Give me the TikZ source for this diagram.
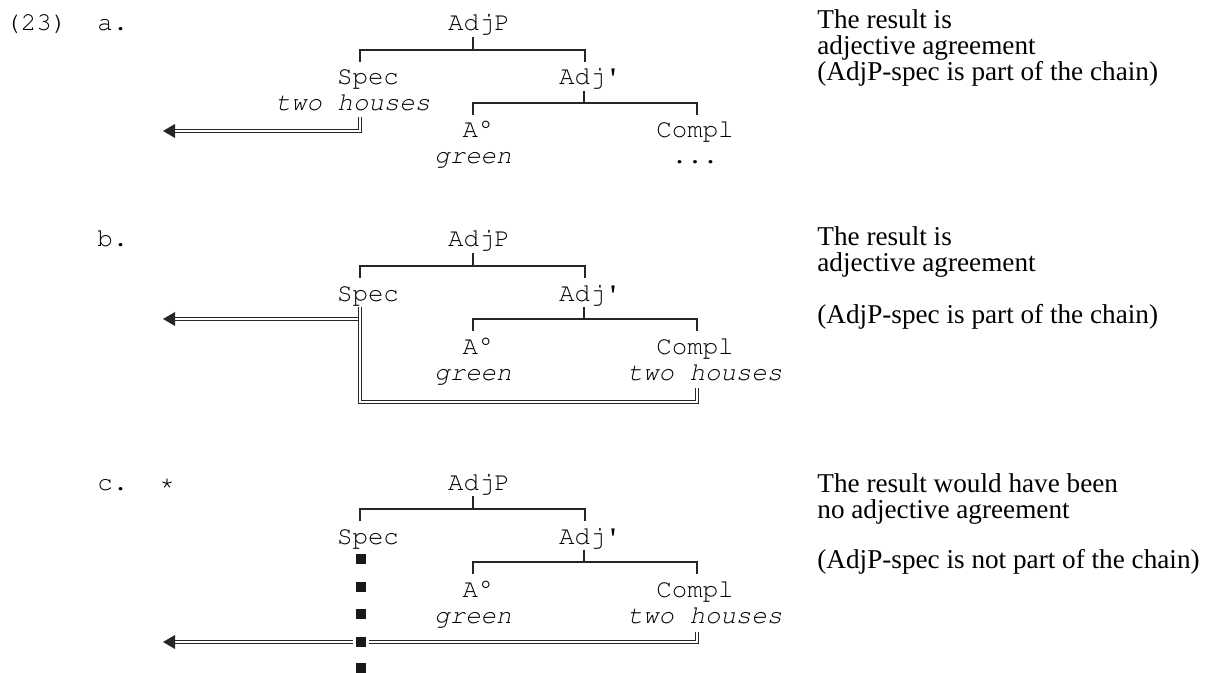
\documentclass[tikz,border=0pt]{standalone}
\usepackage[T1]{fontenc}
\usepackage{fontspec}
\setmainfont{Liberation Serif}
\newcommand{\cour}{\fontencoding{T1}\fontfamily{pcr}\fontsize{12.9pt}{15pt}\selectfont}
\begin{document}
\begin{tikzpicture}[x=0.5pt,y=-0.5pt,
  mono/.style={inner sep=0pt, anchor=base, font=\cour},
  monol/.style={inner sep=0pt, anchor=base west, font=\cour},
  monoit/.style={inner sep=0pt, anchor=base, font=\cour\slshape},
  serif/.style={inner sep=0pt, anchor=base west, font=\fontsize{13.6pt}{16pt}\selectfont},
  branch/.style={line width=0.9pt, black!85},
  chain/.style={double, double distance=0.9pt, line width=0.6pt, black!85},
  tiphead/.style={fill=black!85},
  blob/.style={fill=black!90}]
\useasboundingbox (0,0) rectangle (1208,673);

% ---------------- panel a ----------------
\node[monol] (num) at (5,31) {(23)};
\node[monol] (la) at (97,31) {a.};
\begin{scope}
  \node[mono] (a-adjp) at (479,31) {AdjP};
  \node[mono] (a-spec) at (368,85) {Spec};
  \node[monoit] (a-th) at (353,111) {two houses};
  \node[mono] (a-adjb) at (590,85) {Adj\textquotesingle};
  \node[mono] (a-a0) at (478,138) {A\textdegree};
  \node[monoit] (a-green) at (473,164) {green};
  \node[mono] (a-compl) at (695,138) {Compl};
  \node[mono] (a-dots) at (695,164) {...};
  \coordinate (a-s1) at (473,37);  \coordinate (a-s2) at (473,50);
  \coordinate (a-l1) at (360,62);  \coordinate (a-l2) at (360,50);
  \coordinate (a-r1) at (585,62);  \coordinate (a-r2) at (585,50);
  \coordinate (a-u1) at (584,91);  \coordinate (a-u2) at (584,103);
  \coordinate (a-m1) at (473,115); \coordinate (a-m2) at (473,103);
  \coordinate (a-n1) at (697,115); \coordinate (a-n2) at (697,103);
  \draw[branch] (a-l1) -- (a-l2) -- (a-r2) -- (a-r1);
  \draw[branch] (a-s1) -- (a-s2);
  \draw[branch] (a-m1) -- (a-m2) -- (a-n2) -- (a-n1);
  \draw[branch] (a-u1) -- (a-u2);
  \coordinate (a-c1) at (360,117); \coordinate (a-c2) at (360,131);
  \coordinate (a-c3) at (175,131); \coordinate (a-tip) at (163,131);
  \draw[chain] (a-c1) -- (a-c2) -- (a-c3);
  \fill[tiphead] (a-tip) -- ([yshift=-3.5]a-c3) -- ([yshift=3.5]a-c3) -- cycle;
\end{scope}
\node[serif] (a-t1) at (817,29) {The result is};
\node[serif] (a-t2) at (817,55) {adjective agreement};
\node[serif] (a-t3) at (817,81) {(AdjP-spec is part of the chain)};

% ---------------- panel b ----------------
\node[monol] (lb) at (97,247) {b.};
\begin{scope}[shift={(0,216)}]
  \node[mono] (b-adjp) at (479,31) {AdjP};
  \node[mono] (b-spec) at (368,85) {Spec};
  \node[mono] (b-adjb) at (590,85) {Adj\textquotesingle};
  \node[mono] (b-a0) at (478,138) {A\textdegree};
  \node[monoit] (b-green) at (473,164) {green};
  \node[mono] (b-compl) at (695,138) {Compl};
  \node[monoit] (b-th) at (705,164) {two houses};
  \coordinate (b-s1) at (473,37);  \coordinate (b-s2) at (473,50);
  \coordinate (b-l1) at (360,62);  \coordinate (b-l2) at (360,50);
  \coordinate (b-r1) at (585,62);  \coordinate (b-r2) at (585,50);
  \coordinate (b-u1) at (584,91);  \coordinate (b-u2) at (584,103);
  \coordinate (b-m1) at (473,115); \coordinate (b-m2) at (473,103);
  \coordinate (b-n1) at (697,115); \coordinate (b-n2) at (697,103);
  \draw[branch] (b-l1) -- (b-l2) -- (b-r2) -- (b-r1);
  \draw[branch] (b-s1) -- (b-s2);
  \draw[branch] (b-m1) -- (b-m2) -- (b-n2) -- (b-n1);
  \draw[branch] (b-u1) -- (b-u2);
  \coordinate (b-c1) at (360,91);  \coordinate (b-c2) at (360,186);
  \coordinate (b-c3) at (697,186); \coordinate (b-c4) at (697,172);
  \draw[chain] (b-c1) -- (b-c2) -- (b-c3) -- (b-c4);
  \coordinate (b-j) at (358,103); \coordinate (b-e) at (175,103);
  \coordinate (b-tip) at (163,103);
  \draw[chain] (b-j) -- (b-e);
  \fill[tiphead] (b-tip) -- ([yshift=-3.5]b-e) -- ([yshift=3.5]b-e) -- cycle;
\end{scope}
\node[serif] (b-t1) at (817,246) {The result is};
\node[serif] (b-t2) at (817,272) {adjective agreement};
\node[serif] (b-t3) at (817,323) {(AdjP-spec is part of the chain)};

% ---------------- panel c ----------------
\node[monol] (lc) at (97,490) {c. *};
\begin{scope}[shift={(0,459)}]
  \node[mono] (c-adjp) at (479,31) {AdjP};
  \node[mono] (c-spec) at (368,85) {Spec};
  \node[mono] (c-adjb) at (590,85) {Adj\textquotesingle};
  \node[mono] (c-a0) at (478,138) {A\textdegree};
  \node[monoit] (c-green) at (473,164) {green};
  \node[mono] (c-compl) at (695,138) {Compl};
  \node[monoit] (c-th) at (705,164) {two houses};
  \coordinate (c-s1) at (473,37);  \coordinate (c-s2) at (473,50);
  \coordinate (c-l1) at (360,62);  \coordinate (c-l2) at (360,50);
  \coordinate (c-r1) at (585,62);  \coordinate (c-r2) at (585,50);
  \coordinate (c-u1) at (584,91);  \coordinate (c-u2) at (584,103);
  \coordinate (c-m1) at (473,115); \coordinate (c-m2) at (473,103);
  \coordinate (c-n1) at (697,115); \coordinate (c-n2) at (697,103);
  \draw[branch] (c-l1) -- (c-l2) -- (c-r2) -- (c-r1);
  \draw[branch] (c-s1) -- (c-s2);
  \draw[branch] (c-m1) -- (c-m2) -- (c-n2) -- (c-n1);
  \draw[branch] (c-u1) -- (c-u2);
  \coordinate (c-c1) at (697,173); \coordinate (c-c2) at (697,183);
  \coordinate (c-c3) at (175,183); \coordinate (c-tip) at (163,183);
  \draw[chain] (c-c1) -- (c-c2) -- (c-c3);
  \fill[tiphead] (c-tip) -- ([yshift=-3.5]c-c3) -- ([yshift=3.5]c-c3) -- cycle;
  \fill[white] (353,175) rectangle (369,191);
  \foreach \yy in {100,128,155,183,209}
    \fill[blob] (356,\yy-5) rectangle (366,\yy+5);
\end{scope}
\node[serif] (c-t1) at (817,492) {The result would have been};
\node[serif] (c-t2) at (817,518) {no adjective agreement};
\node[serif] (c-t3) at (817,568) {(AdjP-spec is not part of the chain)};
\end{tikzpicture}
\end{document}
